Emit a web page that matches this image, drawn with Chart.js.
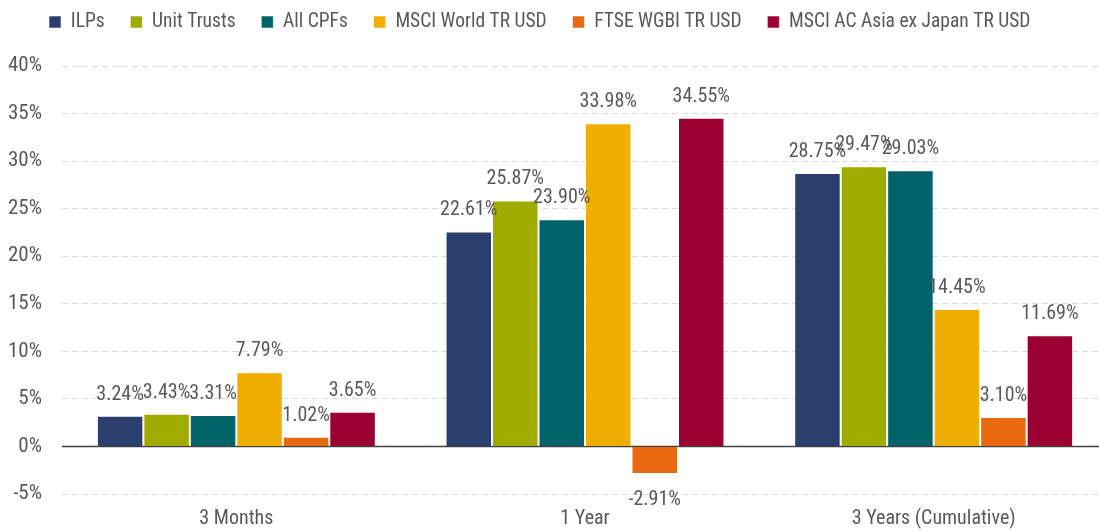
<!DOCTYPE html>
<html>
<head>
<meta charset="utf-8">
<script src="https://cdn.jsdelivr.net/npm/chart.js@4"></script>
<style>
html,body{margin:0;padding:0;background:#fff;}
#wrap{width:1099px;height:531px;position:relative;}
canvas{display:block;width:1099px;height:531px;}
</style>
</head>
<body>
<div id="wrap"><canvas id="c" width="1099" height="531"></canvas></div>
<script>
const FONT = "'Roboto Condensed','Liberation Sans Narrow','DejaVu Sans Condensed',sans-serif";
const categories = ['3 Months', '1 Year', '3 Years (Cumulative)'];
const seriesNames = ['ILPs', 'Unit Trusts', 'All CPFs', 'MSCI World TR USD', 'FTSE WGBI TR USD', 'MSCI AC Asia ex Japan TR USD'];
const ilps = [3.24, 22.61, 28.75];
const unitTrusts = [3.43, 25.87, 29.47];
const allCpfs = [3.31, 23.90, 29.03];
const msciWorld = [7.79, 33.98, 14.45];
const ftseWgbi = [1.02, -2.91, 3.10];
const msciAsia = [3.65, 34.55, 11.69];
const seriesColors = ['#2a3f6e', '#a0ab00', '#00636a', '#f0ae00', '#e8690f', '#9b0033'];
const yTicks = [-5, 0, 5, 10, 15, 20, 25, 30, 35, 40];

const seriesValues = [ilps, unitTrusts, allCpfs, msciWorld, ftseWgbi, msciAsia];
const EXTEND_RIGHT = 9;

const labelPlugin = {
  id: 'barLabels',
  afterLayout(chart) {
    const lg = chart.legend;
    if (lg) {
      lg.left += 23.25;
      lg.top -= 13.5;
      lg.bottom -= 13.5;
    }
    const xs = chart.scales.x;
    xs.right += EXTEND_RIGHT;
    xs.width += EXTEND_RIGHT;
    xs.configure();
    const ys = chart.scales.y;
    chart.chartArea.right += EXTEND_RIGHT;
    chart.chartArea.width = chart.chartArea.right - chart.chartArea.left;
  },
  beforeDatasetsDraw(chart) {
    const {ctx, chartArea, scales} = chart;
    const y0 = scales.y.getPixelForValue(0);
    ctx.save();
    ctx.strokeStyle = '#404040';
    ctx.lineWidth = 1.5;
    ctx.beginPath();
    ctx.moveTo(chartArea.left, y0);
    ctx.lineTo(chartArea.right, y0);
    ctx.stroke();
    ctx.restore();
  },
  afterDatasetsDraw(chart) {
    const {ctx} = chart;
    ctx.save();
    ctx.font = '20px ' + FONT;
    ctx.fillStyle = '#595959';
    ctx.textAlign = 'center';
    ctx.textBaseline = 'alphabetic';
    chart.data.datasets.forEach((ds, i) => {
      const meta = chart.getDatasetMeta(i);
      meta.data.forEach((el, j) => {
        const v = ds.data[j];
        const txt = v.toFixed(2) + '%';
        if (v >= 0) {
          ctx.fillText(txt, el.x, el.y - 16);
        } else {
          ctx.fillText(txt, el.x, el.y + 31);
        }
      });
    });
    ctx.restore();
  }
};

new Chart(document.getElementById('c'), {
  type: 'bar',
  data: {
    labels: categories,
    datasets: seriesNames.map((n, i) => ({
      label: n,
      data: seriesValues[i],
      backgroundColor: seriesColors[i],
      borderColor: 'rgba(255,255,255,0.55)',
      borderWidth: 1,
      barPercentage: 1,
      categoryPercentage: 0.80
    }))
  },
  options: {
    responsive: false,
    maintainAspectRatio: false,
    animation: false,
    devicePixelRatio: 1,
    layout: { padding: 0 },
    plugins: {
      tooltip: { enabled: false },
      legend: {
        position: 'top',
        align: 'start',
        labels: {
          boxWidth: 12,
          boxHeight: 12,
          padding: 25.75,
          color: '#595959',
          font: { family: FONT, size: 19.5 }
        }
      },
      subtitle: {
        display: true,
        text: '',
        weight: 500,
        font: { size: 1, lineHeight: 1 },
        padding: { top: 0, bottom: 9.75 }
      }
    },
    scales: {
      x: {
        afterFit(s) { s.height = 37; },
        grid: { display: false, drawTicks: false },
        border: { display: false },
        ticks: {
          color: '#595959',
          padding: 13,
          font: { family: FONT, size: 20 }
        }
      },
      y: {
        min: -5,
        max: 40,
        afterFit(s) { s.width = 62; },
        afterBuildTicks(s) { s.ticks = yTicks.map(v => ({ value: v })); },
        grid: {
          drawTicks: false,
          color: (c) => (c.tick && c.tick.value === 0) ? 'rgba(0,0,0,0)' : '#d9d9d9',
          lineWidth: 1
        },
        border: { display: false, dash: [6, 4] },
        ticks: {
          color: '#595959',
          padding: 20,
          font: { family: FONT, size: 21 },
          callback: (v) => v + '%'
        }
      }
    }
  },
  plugins: [labelPlugin]
});
</script>
</body>
</html>
